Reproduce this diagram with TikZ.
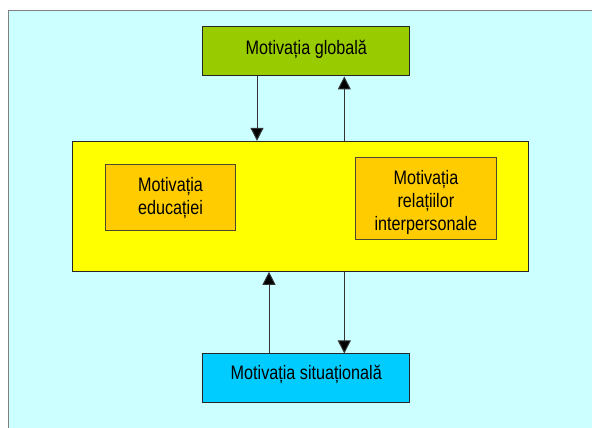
\documentclass[tikz,border=0pt]{standalone}
\usepackage{fontspec}
\setmainfont{Liberation Sans}
\usetikzlibrary{arrows.meta}
\definecolor{bgcyan}{HTML}{CCFFFF}
\definecolor{boxgreen}{HTML}{99CC00}
\definecolor{boxyellow}{HTML}{FFFF00}
\definecolor{boxorange}{HTML}{FFCC00}
\definecolor{boxblue}{HTML}{00CCFF}
\tikzset{
  box/.style={draw=black!85, line width=1pt, inner sep=0pt},
  txt/.style={inner sep=0pt, font=\fontsize{19.5}{23}\selectfont, xscale=0.83, transform shape, align=center},
  arr/.style={draw=black!80, line width=1pt, -{Triangle[width=13pt,length=13pt,fill=black]}}
}
\begin{document}
\begin{tikzpicture}[x=1pt,y=-1pt]
\useasboundingbox (0,0) rectangle (592,428);
\fill[white] (0,0) rectangle (592,428);
\fill[bgcyan] (8,11) rectangle (592,428);
\draw[gray, line width=1pt] (8,428) -- (8,11) -- (592,11);
% boxes
\node[box, fill=boxgreen, minimum width=206.7pt, minimum height=49pt] (g) at (306.3,51.5) {};
\node[txt, anchor=base] (gt) at (306.3,54.3) {Motivația globală};
\node[box, fill=boxyellow, minimum width=456pt, minimum height=130pt] (y) at (300.7,206.3) {};
\node[box, fill=boxorange, draw=black!60!olive, minimum width=130.4pt, minimum height=66pt] (e) at (170.5,197.7) {};
\node[txt] (et) at (170.5,198.5) {Motivația\\educației};
\node[box, fill=boxorange, draw=black!60!olive, minimum width=140.3pt, minimum height=81.7pt] (r) at (425.9,198.2) {};
\node[txt] (rt) at (425.9,202) {Motivația\\relațiilor\\interpersonale};
\node[box, fill=boxblue, minimum width=206.7pt, minimum height=48.7pt] (s) at (306.3,378.3) {};
\node[txt, anchor=base] (st) at (306.3,379.3) {Motivația situațională};
% arrow columns
\coordinate (c1) at (257,0);
\coordinate (c2) at (344.3,0);
\coordinate (c3) at (269,0);
\draw[arr] (g.south -| c1) -- (y.north -| c1);
\draw[arr] (y.north -| c2) -- (g.south -| c2);
\draw[arr] (s.north -| c3) -- (y.south -| c3);
\draw[arr] (y.south -| c2) -- (s.north -| c2);
\end{tikzpicture}
\end{document}
